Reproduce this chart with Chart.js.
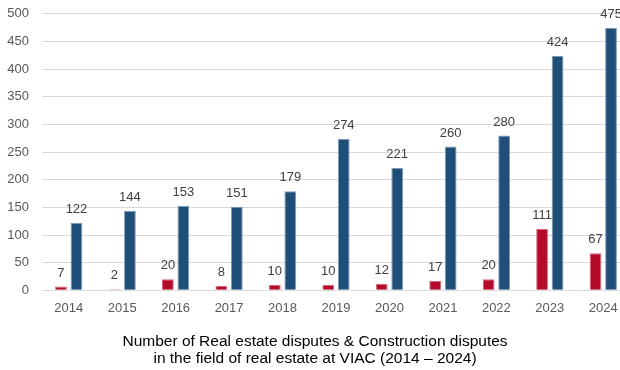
<!DOCTYPE html>
<html>
<head>
<meta charset="utf-8">
<script src="https://cdn.jsdelivr.net/npm/chart.js@4"></script>
<style>
  html, body { margin: 0; padding: 0; background: #fff; overflow: hidden; }
  #wrap { width: 630px; height: 377px; margin-top: -7px; }
</style>
</head>
<body>
<div id="wrap"><canvas id="disputesChart"></canvas></div>
<script>
// Years and dispute counts
const years = ['2014', '2015', '2016', '2017', '2018', '2019', '2020', '2021', '2022', '2023', '2024'];
const realEstate = [7, 2, 20, 8, 10, 10, 12, 17, 20, 111, 67];
const construction = [122, 144, 153, 151, 179, 274, 221, 260, 280, 424, 475];
const yTicks = [0, 50, 100, 150, 200, 250, 300, 350, 400, 450, 500];

// Draw the value above every bar
const valueLabels = {
    id: 'valueLabels',
    afterDatasetsDraw(chart) {
        const ctx = chart.ctx;
        ctx.save();
        ctx.font = '13px "Liberation Sans", Arial, sans-serif';
        ctx.fillStyle = '#404040';
        ctx.textAlign = 'center';
        ctx.textBaseline = 'bottom';
        chart.data.datasets.forEach((ds, i) => {
            chart.getDatasetMeta(i).data.forEach((bar, j) => {
                ctx.fillText(ds.data[j], bar.x, bar.y - 7);
            });
        });
        ctx.restore();
    }
};

const ctx = document.getElementById('disputesChart').getContext('2d');

const disputesChart = new Chart(ctx, {
    type: 'bar',
    data: {
        labels: years,
        datasets: [{
            label: 'Real estate disputes',
            data: realEstate,
            backgroundColor: '#b5092c',
            borderColor: '#d9667c',
            borderWidth: 1,
            categoryPercentage: 0.58,
            barPercentage: 0.76
        }, {
            label: 'Construction disputes',
            data: construction,
            backgroundColor: '#1f4e79',
            borderColor: '#7f9bb8',
            borderWidth: 1,
            categoryPercentage: 0.58,
            barPercentage: 0.76
        }]
    },
    options: {
        responsive: true,
        maintainAspectRatio: false,
        animation: false,
        layout: { padding: { top: 0, left: 0, right: 0, bottom: 3 } },
        plugins: {
            legend: { display: false },
            tooltip: { enabled: false },
            title: {
                display: true,
                position: 'bottom',
                text: ['Number of Real estate disputes & Construction disputes',
                       'in the field of real estate at VIAC (2014 \u2013 2024)'],
                color: '#000',
                font: { family: '"Liberation Sans", Arial, sans-serif', size: 15.5, weight: 'normal', lineHeight: 1.1 },
                padding: { top: 15, bottom: 0 }
            }
        },
        scales: {
            x: {
                grid: { display: false },
                border: { display: false },
                ticks: {
                    color: '#595959',
                    font: { family: '"Liberation Sans", Arial, sans-serif', size: 13 },
                    padding: 2
                }
            },
            y: {
                min: 0,
                max: 500,
                afterBuildTicks: axis => { axis.ticks = yTicks.map(v => ({ value: v })); },
                afterFit: axis => { axis.width = 42; },
                grid: { color: '#d9d9d9', lineWidth: 1, drawTicks: false },
                border: { display: false },
                ticks: {
                    color: '#595959',
                    font: { family: '"Liberation Sans", Arial, sans-serif', size: 13 },
                    padding: 13
                }
            }
        }
    },
    plugins: [valueLabels]
});
</script>
</body>
</html>
